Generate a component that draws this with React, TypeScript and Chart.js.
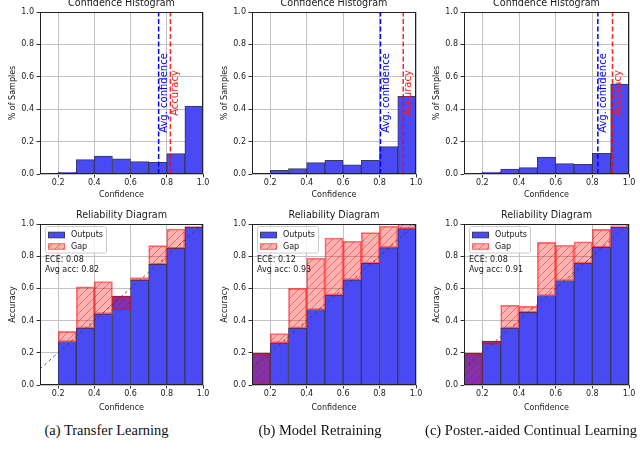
import React, { useEffect, useRef } from "react";
import { Chart, registerables } from "chart.js";

Chart.register(...registerables);

// ---------------- data ----------------
const binCenters = [0.15, 0.25, 0.35, 0.45, 0.55, 0.65, 0.75, 0.85, 0.95];
const xTickValues = [0.2, 0.4, 0.6, 0.8, 1.0];
const yTickValues = [0, 0.2, 0.4, 0.6, 0.8, 1.0];

const histTransfer = [0, 0.01, 0.089, 0.111, 0.093, 0.076, 0.072, 0.126, 0.419];
const histRetraining = [0, 0.023, 0.033, 0.07, 0.085, 0.056, 0.085, 0.169, 0.48];
const histContinual = [0, 0.012, 0.031, 0.039, 0.105, 0.064, 0.06, 0.128, 0.555];

const avgConfidence = [0.755, 0.805, 0.83];
const accuracyValues = [0.82, 0.93, 0.91];

const outputsTransfer = [0, 0.27, 0.353, 0.442, 0.552, 0.651, 0.75, 0.849, 0.979];
const gapLowTransfer = [null, 0.27, 0.353, 0.442, 0.467, 0.651, 0.75, 0.849, 0.979];
const gapHighTransfer = [null, 0.333, 0.61, 0.643, 0.552, 0.667, 0.866, 0.969, 0.986];

const outputsRetraining = [0.196, 0.262, 0.353, 0.469, 0.558, 0.653, 0.756, 0.853, 0.971];
const gapLowRetraining = [0, 0.262, 0.353, 0.469, 0.558, 0.653, 0.756, 0.853, 0.971];
const gapHighRetraining = [0.196, 0.32, 0.6, 0.787, 0.913, 0.893, 0.946, 0.986, 1.0];

const outputsContinual = [0.196, 0.273, 0.353, 0.452, 0.556, 0.649, 0.758, 0.855, 0.979];
const gapLowContinual = [0, 0.252, 0.353, 0.452, 0.556, 0.649, 0.758, 0.855, 0.979];
const gapHighContinual = [0.196, 0.273, 0.496, 0.488, 0.886, 0.868, 0.89, 0.967, 0.99];

const eceLabels = ["ECE: 0.08", "ECE: 0.12", "ECE: 0.08"];
const avgAccLabels = ["Avg acc: 0.82", "Avg acc: 0.93", "Avg acc: 0.91"];
const legendLabels = ["Outputs", "Gap"];
const captions = [
  "(a) Transfer Learning",
  "(b) Model Retraining",
  "(c) Poster.-aided Continual Learning",
];

// ---------------- style ----------------
const FONT = "'DejaVu Sans', sans-serif";
const BLUE = "rgb(74,74,244)";
const BLUE_EDGE = "rgb(55,55,95)";
const TEXT = "#1a1a1a";
const GRID = "#c2c2c2";

Chart.defaults.font.family = FONT;

let hatchCache: CanvasPattern | null = null;
function hatch(): CanvasPattern {
  if (hatchCache) return hatchCache;
  const c = document.createElement("canvas");
  const s = 8;
  c.width = s;
  c.height = s;
  const g = c.getContext("2d")!;
  g.fillStyle = "rgba(255,0,0,0.3)";
  g.fillRect(0, 0, s, s);
  g.strokeStyle = "rgba(225,0,0,0.45)";
  g.lineWidth = 0.9;
  g.beginPath();
  g.moveTo(0, s);
  g.lineTo(s, 0);
  g.moveTo(-2, 2);
  g.lineTo(2, -2);
  g.moveTo(s - 2, s + 2);
  g.lineTo(s + 2, s - 2);
  g.stroke();
  hatchCache = g.createPattern(c, "repeat")!;
  return hatchCache;
}

type Spec = {
  kind: "hist" | "rel";
  idx: number;
  left: number;
  top: number;
  w: number;
  h: number;
  chartLeft: number;
  chartRight: number;
  chartTop: number;
  chartBottom: number;
  xTitleCenter: number;
};

function buildConfig(p: Spec): any {
  const i = p.idx;
  const xAxisH = p.xTitleCenter - p.chartBottom + 4.8;
  const padTop = p.chartTop - p.top;
  const padBottom = p.top + p.h - p.chartBottom - xAxisH;
  const padRight = p.left + p.w - p.chartRight;
  const yAxisW = p.chartLeft - p.left;

  const datasets: any[] = [];
  const plugins: any[] = [];

  if (p.kind === "hist") {
    const hist = [histTransfer, histRetraining, histContinual][i];
    datasets.push({
      type: "bar",
      data: binCenters.map((x, k) => ({ x, y: hist[k] })),
      backgroundColor: BLUE,
      borderColor: BLUE_EDGE,
      borderWidth: 1,
      borderSkipped: false,
      grouped: false,
      categoryPercentage: 1,
      barPercentage: 1,
      order: 3,
    });
    datasets.push({
      type: "line",
      data: [
        { x: avgConfidence[i], y: 0 },
        { x: avgConfidence[i], y: 1 },
      ],
      borderColor: "#0000ff",
      borderWidth: 1.5,
      borderDash: [5, 2.5],
      pointRadius: 0,
      order: 1,
    });
    datasets.push({
      type: "line",
      data: [
        { x: accuracyValues[i], y: 0 },
        { x: accuracyValues[i], y: 1 },
      ],
      borderColor: "rgba(255,0,0,0.85)",
      borderWidth: 1.5,
      borderDash: [5, 2.5],
      pointRadius: 0,
      order: 1,
    });
    plugins.push({
      id: "vtexts",
      afterDraw(chart: any) {
        const { ctx, scales } = chart;
        const yMid = scales.y.getPixelForValue(0.5);
        const draw = (val: number, txt: string, col: string) => {
          const x = scales.x.getPixelForValue(val) + 5.5;
          ctx.save();
          ctx.translate(x, yMid);
          ctx.rotate(-Math.PI / 2);
          ctx.font = `10px ${FONT}`;
          ctx.fillStyle = col;
          ctx.textAlign = "center";
          ctx.textBaseline = "middle";
          ctx.fillText(txt, 0, 0);
          ctx.restore();
        };
        draw(avgConfidence[i], "Avg. confidence", "#0000ff");
        draw(accuracyValues[i], "Accuracy", "#ff1a1a");
      },
    });
  } else {
    const outs = [outputsTransfer, outputsRetraining, outputsContinual][i];
    const lo = [gapLowTransfer, gapLowRetraining, gapLowContinual][i];
    const hi = [gapHighTransfer, gapHighRetraining, gapHighContinual][i];
    datasets.push({
      type: "bar",
      data: binCenters.map((x, k) => ({ x, y: outs[k] })),
      backgroundColor: BLUE,
      borderColor: BLUE_EDGE,
      borderWidth: 1,
      borderSkipped: false,
      grouped: false,
      categoryPercentage: 1,
      barPercentage: 1,
      order: 3,
    });
    datasets.push({
      type: "bar",
      data: binCenters
        .map((x, k) => (lo[k] === null ? null : { x, y: [lo[k], hi[k]] }))
        .filter((d) => d !== null),
      backgroundColor: hatch(),
      borderColor: "rgba(255,0,0,0.55)",
      borderWidth: 1,
      borderSkipped: false,
      grouped: false,
      categoryPercentage: 1,
      barPercentage: 1,
      order: 2,
    });
    datasets.push({
      type: "line",
      data: [
        { x: 0, y: 0 },
        { x: 1, y: 1 },
      ],
      borderColor: "rgba(60,60,60,0.8)",
      borderWidth: 1,
      borderDash: [3, 3],
      pointRadius: 0,
      order: 1,
    });
    plugins.push({
      id: "legendText",
      afterDraw(chart: any) {
        const { ctx, chartArea: ca } = chart;
        const fl = Math.round(ca.left + 4.5) + 0.5;
        const ft = Math.round(ca.top + 2) + 0.5;
        const fw = 61;
        const fh = 26.5;
        ctx.save();
        ctx.beginPath();
        ctx.roundRect(fl, ft, fw, fh, 2);
        ctx.fillStyle = "rgba(255,255,255,0.8)";
        ctx.fill();
        ctx.strokeStyle = "#cccccc";
        ctx.lineWidth = 1;
        ctx.stroke();
        const rws = [ft + 8.5, ft + 20];
        ctx.fillStyle = BLUE;
        ctx.fillRect(fl + 3, rws[0] - 2.8, 16, 5.6);
        ctx.strokeStyle = BLUE_EDGE;
        ctx.strokeRect(fl + 3, rws[0] - 2.8, 16, 5.6);
        ctx.fillStyle = hatch();
        ctx.fillRect(fl + 3, rws[1] - 2.8, 16, 5.6);
        ctx.strokeStyle = "rgba(255,0,0,0.55)";
        ctx.strokeRect(fl + 3, rws[1] - 2.8, 16, 5.6);
        ctx.font = `8px ${FONT}`;
        ctx.fillStyle = TEXT;
        ctx.textAlign = "left";
        ctx.textBaseline = "middle";
        ctx.fillText(legendLabels[0], fl + 25.5, rws[0]);
        ctx.fillText(legendLabels[1], fl + 25.5, rws[1]);
        ctx.fillText(eceLabels[i], ca.left + 5, ca.top + 36);
        ctx.fillText(avgAccLabels[i], ca.left + 5, ca.top + 45.5);
        ctx.restore();
      },
    });
  }

  plugins.unshift({
    id: "frameTitle",
    afterDatasetsDraw(chart: any) {
      const { ctx, chartArea: ca } = chart;
      ctx.save();
      ctx.strokeStyle = "#222";
      ctx.lineWidth = 1;
      const l = Math.round(ca.left) + 0.5;
      const t = Math.round(ca.top) + 0.5;
      const r = Math.round(ca.right) - 0.5;
      const b = Math.round(ca.bottom) - 0.5;
      ctx.strokeRect(l, t, r - l, b - t);
      ctx.font = `9.6px ${FONT}`;
      ctx.fillStyle = TEXT;
      ctx.textAlign = "center";
      ctx.textBaseline = "middle";
      ctx.fillText(
        p.kind === "hist" ? "Confidence Histogram" : "Reliability Diagram",
        (ca.left + ca.right) / 2,
        ca.top - 8.3
      );
      ctx.restore();
    },
  });

  const tickFont = { family: FONT, size: 8 };
  const gridOpts = {
    color: GRID,
    lineWidth: 1,
    tickColor: "#333",
    tickLength: 3.5,
    tickWidth: 1,
    drawTicks: true,
    offset: false,
  };

  return {
    type: "bar",
    data: { datasets },
    plugins,
    options: {
      responsive: false,
      animation: false,
      devicePixelRatio: 1,
      layout: {
        padding: { left: 0, right: padRight, top: padTop, bottom: padBottom },
      },
      plugins: {
        legend: { display: false },
        tooltip: { enabled: false },
        title: { display: false },
      },
      scales: {
        x: {
          type: "linear",
          min: 0.1,
          max: 1.0,
          offset: false,
          afterBuildTicks: (s: any) => {
            s.ticks = xTickValues.map((v) => ({ value: v }));
          },
          ticks: {
            callback: (v: any) => Number(v).toFixed(1),
            font: tickFont,
            color: TEXT,
            padding: 1,
            maxRotation: 0,
            autoSkip: false,
          },
          grid: gridOpts,
          border: { display: false },
          title: {
            display: true,
            text: "Confidence",
            font: tickFont,
            color: TEXT,
            padding: { top: 0, bottom: 0 },
          },
          afterFit: (s: any) => {
            s.height = xAxisH;
          },
        },
        y: {
          type: "linear",
          min: 0,
          max: 1,
          afterBuildTicks: (s: any) => {
            s.ticks = yTickValues.map((v) => ({ value: v }));
          },
          ticks: {
            callback: (v: any) => Number(v).toFixed(1),
            font: tickFont,
            color: TEXT,
            padding: 2.5,
          },
          grid: gridOpts,
          border: { display: false },
          title: {
            display: true,
            text: p.kind === "hist" ? "% of Samples" : "Accuracy",
            font: tickFont,
            color: TEXT,
            padding: { top: 8.5, bottom: 0 },
          },
          afterFit: (s: any) => {
            s.width = yAxisW;
          },
        },
      },
    },
  };
}

function Panel({ spec }: { spec: Spec }) {
  const ref = useRef<HTMLCanvasElement>(null);
  useEffect(() => {
    const chart = new Chart(ref.current!, buildConfig(spec));
    return () => chart.destroy();
  }, []);
  return (
    <canvas
      ref={ref}
      width={spec.w}
      height={spec.h}
      style={{
        position: "absolute",
        left: spec.left,
        top: spec.top,
        width: spec.w,
        height: spec.h,
      }}
    />
  );
}

const cols = [
  { left: 0, w: 214, chartLeft: 40, chartRight: 203 },
  { left: 212, w: 214, chartLeft: 252, chartRight: 416 },
  { left: 424, w: 216, chartLeft: 464, chartRight: 629 },
];
const rowsLayout = [
  { kind: "hist" as const, top: 0, h: 200, chartTop: 12, chartBottom: 174, xTitleCenter: 194.5 },
  { kind: "rel" as const, top: 200, h: 220, chartTop: 224, chartBottom: 385, xTitleCenter: 408 },
];
const captionCenters = [106.5, 320, 531];

export default function App() {
  const specs: Spec[] = [];
  rowsLayout.forEach((r) =>
    cols.forEach((c, idx) =>
      specs.push({
        kind: r.kind,
        idx,
        left: c.left,
        top: r.top,
        w: c.w,
        h: r.h,
        chartLeft: c.chartLeft,
        chartRight: c.chartRight,
        chartTop: r.chartTop,
        chartBottom: r.chartBottom,
        xTitleCenter: r.xTitleCenter,
      })
    )
  );
  return (
    <div
      style={{
        position: "fixed",
        left: 0,
        top: 0,
        width: 640,
        height: 454,
        background: "#fff",
        overflow: "hidden",
      }}
    >
      {specs.map((s, k) => (
        <Panel key={k} spec={s} />
      ))}
      {captions.map((t, k) => (
        <div
          key={t}
          style={{
            position: "absolute",
            left: captionCenters[k],
            top: 422.5,
            transform: "translateX(-50%)",
            whiteSpace: "nowrap",
            fontFamily: "'Liberation Serif', 'Times New Roman', serif",
            fontSize: 14.5,
            lineHeight: "14.5px",
            color: "#111",
          }}
        >
          {t}
        </div>
      ))}
    </div>
  );
}
